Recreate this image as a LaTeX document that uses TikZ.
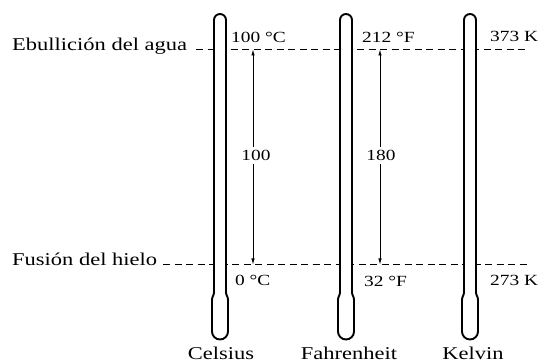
\documentclass[tikz,border=0pt]{standalone}
\usepackage{fontspec}
\setmainfont{Liberation Serif}[FakeStretch=1.25]
\usetikzlibrary{arrows.meta}
\tikzset{
  big/.style={font=\fontsize{18}{20}\selectfont, inner sep=0pt},
  small/.style={font=\fontsize{15.5}{17}\selectfont, inner sep=0pt},
  level/.style={dashed, dash pattern=on 7pt off 4.5pt, line width=1.2pt},
  tube/.style={line width=1.9pt, fill=white},
  dim/.style={line width=0.8pt, -{Latex[length=6pt,width=3.5pt]}},
  mid/.style={font=\fontsize{15.5}{17}\selectfont, inner sep=3pt, fill=white},
  thermo/.pic={
    \draw[tube] (-6,71) -- (-6,343) arc[start angle=180,end angle=0,radius=6pt]
      -- (6,71) .. controls (6,67) and (8,67) .. (8,63) -- (8,31.5)
      arc[start angle=0,end angle=-180,radius=8pt] -- (-8,63)
      .. controls (-8,67) and (-6,67) .. (-6,71) -- cycle;
  }
}
\begin{document}
\begin{tikzpicture}[x=1pt,y=1pt]
\useasboundingbox (0,0) rectangle (544,363);
% levels
\coordinate (top-l) at (196,313.5);
\coordinate (top-r) at (529,313.5);
\coordinate (bot-l) at (163,98.5);
\coordinate (bot-r) at (530,98.5);
\draw[level] (top-l) -- (top-r);
\draw[level] (bot-l) -- (bot-r);
% thermometers
\pic at (220,0) {thermo};
\pic at (346,0) {thermo};
\pic at (470,0) {thermo};
% left labels
\node[big, anchor=base west] (boil) at (12,312) {Ebullición del agua};
\node[big, anchor=base west] (melt) at (12,97) {Fusión del hielo};
% scale labels
\node[small, anchor=base west] (c100) at (231,320) {100 °C};
\node[small, anchor=base west] (c0) at (235,77) {0 °C};
\node[small, anchor=base west] (f212) at (362,320) {212 °F};
\node[small, anchor=base west] (f32) at (364,76) {32 °F};
\node[small, anchor=base west] (k373) at (490,321) {373 K};
\node[small, anchor=base west] (k273) at (490,77) {273 K};
% names
\node[big, anchor=base] (cel) at (221,3) {Celsius};
\node[big, anchor=base] (fah) at (349,3) {Fahrenheit};
\node[big, anchor=base] (kel) at (473,3) {Kelvin};
% intervals
\coordinate (ct) at (253,313.5);
\coordinate (cb) at (253,98.5);
\coordinate (ft) at (380,313.5);
\coordinate (fb) at (380,98.5);
\node[mid] (d100) at (256,207.5) {100};
\node[mid] (d180) at (381,207.5) {180};
\draw[dim] (d100.north -| ct) -- (ct);
\draw[dim] (d100.south -| cb) -- (cb);
\draw[dim] (d180.north -| ft) -- (ft);
\draw[dim] (d180.south -| fb) -- (fb);
\end{tikzpicture}
\end{document}
